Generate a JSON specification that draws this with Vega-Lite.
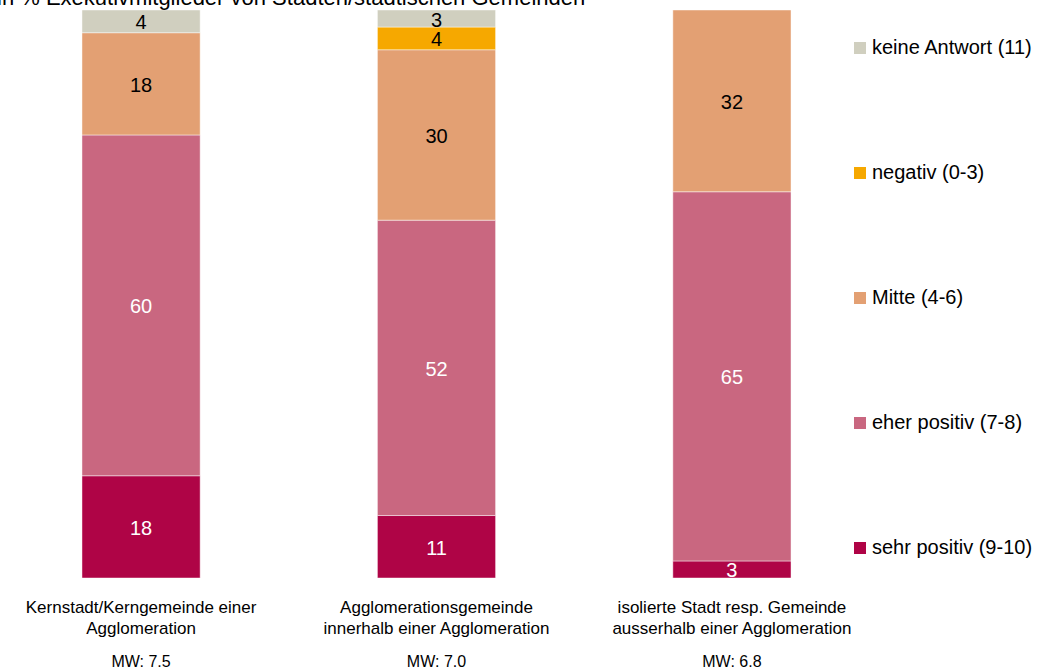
{
  "$schema": "https://vega.github.io/schema/vega-lite/v6.json",
  "autosize": "none",
  "width": 873,
  "height": 568,
  "padding": {"left": 0, "top": 10, "right": 166, "bottom": 93},
  "background": "white",
  "title": {
    "text": "in % Exekutivmitglieder von Städten/städtischen Gemeinden",
    "anchor": "start",
    "frame": "group",
    "font": "Liberation Sans, Arial",
    "fontSize": 22,
    "fontWeight": "normal",
    "color": "black",
    "baseline": "alphabetic",
    "offset": -17,
    "dx": -3
  },
  "data": {
    "values": [
      {"gemeinde": "Kernstadt/Kerngemeinde einer|Agglomeration|MW: 7.5", "kategorie": "sehr positiv (9-10)", "rang": 1, "anteil": 18},
      {"gemeinde": "Kernstadt/Kerngemeinde einer|Agglomeration|MW: 7.5", "kategorie": "eher positiv (7-8)", "rang": 2, "anteil": 60},
      {"gemeinde": "Kernstadt/Kerngemeinde einer|Agglomeration|MW: 7.5", "kategorie": "Mitte (4-6)", "rang": 3, "anteil": 18},
      {"gemeinde": "Kernstadt/Kerngemeinde einer|Agglomeration|MW: 7.5", "kategorie": "keine Antwort (11)", "rang": 5, "anteil": 4},
      {"gemeinde": "Agglomerationsgemeinde|innerhalb einer Agglomeration|MW: 7.0", "kategorie": "sehr positiv (9-10)", "rang": 1, "anteil": 11},
      {"gemeinde": "Agglomerationsgemeinde|innerhalb einer Agglomeration|MW: 7.0", "kategorie": "eher positiv (7-8)", "rang": 2, "anteil": 52},
      {"gemeinde": "Agglomerationsgemeinde|innerhalb einer Agglomeration|MW: 7.0", "kategorie": "Mitte (4-6)", "rang": 3, "anteil": 30},
      {"gemeinde": "Agglomerationsgemeinde|innerhalb einer Agglomeration|MW: 7.0", "kategorie": "negativ (0-3)", "rang": 4, "anteil": 4},
      {"gemeinde": "Agglomerationsgemeinde|innerhalb einer Agglomeration|MW: 7.0", "kategorie": "keine Antwort (11)", "rang": 5, "anteil": 3},
      {"gemeinde": "isolierte Stadt resp. Gemeinde|ausserhalb einer Agglomeration|MW: 6.8", "kategorie": "sehr positiv (9-10)", "rang": 1, "anteil": 3},
      {"gemeinde": "isolierte Stadt resp. Gemeinde|ausserhalb einer Agglomeration|MW: 6.8", "kategorie": "eher positiv (7-8)", "rang": 2, "anteil": 65},
      {"gemeinde": "isolierte Stadt resp. Gemeinde|ausserhalb einer Agglomeration|MW: 6.8", "kategorie": "Mitte (4-6)", "rang": 3, "anteil": 32}
    ]
  },
  "transform": [
    {"stack": "anteil", "groupby": ["gemeinde"], "sort": [{"field": "rang", "order": "ascending"}], "as": ["unten", "oben"]},
    {"calculate": "(datum.unten + datum.oben) / 2", "as": "mitte"}
  ],
  "encoding": {
    "x": {
      "field": "gemeinde",
      "type": "nominal",
      "sort": null,
      "title": null,
      "scale": {"paddingInner": 0.6, "paddingOuter": 0.2775}
    }
  },
  "layer": [
    {
      "mark": {"type": "bar", "stroke": "#ffffff", "strokeWidth": 1, "strokeOpacity": 0.45},
      "encoding": {
        "x": {
          "field": "gemeinde",
          "type": "nominal",
          "sort": null,
          "title": null,
          "axis": {
            "orient": "bottom",
            "domain": false,
            "ticks": false,
            "labelAngle": 0,
            "labelPadding": 21,
            "labelFont": "Liberation Sans, Arial",
            "labelFontSize": 17,
            "labelLineHeight": 21,
            "labelColor": "black",
            "labelLimit": 0,
            "labelExpr": "[split(datum.value, '|')[0], split(datum.value, '|')[1]]"
          }
        },
        "y": {"field": "unten", "type": "quantitative", "scale": {"domain": [0, 100], "nice": false}, "axis": null},
        "y2": {"field": "oben"},
        "color": {
          "field": "kategorie",
          "type": "nominal",
          "scale": {
            "domain": ["keine Antwort (11)", "negativ (0-3)", "Mitte (4-6)", "eher positiv (7-8)", "sehr positiv (9-10)"],
            "range": ["#D0CFBF", "#F6A800", "#E3A073", "#C96780", "#AF0446"]
          },
          "legend": {
            "title": null,
            "orient": "none",
            "legendX": 850,
            "legendY": 28,
            "symbolType": "square",
            "symbolSize": 144,
            "symbolStrokeWidth": 0,
            "symbolOpacity": 1,
            "labelFont": "Liberation Sans, Arial",
            "labelFontSize": 20,
            "labelColor": "black",
            "labelOffset": 2,
            "labelLimit": 0,
            "rowPadding": 105
          }
        }
      }
    },
    {
      "mark": {"type": "text", "clip": true, "baseline": "middle", "align": "center", "font": "Liberation Sans, Arial", "fontSize": 20, "dy": 2},
      "encoding": {
        "x": {
          "field": "gemeinde",
          "type": "nominal",
          "sort": null,
          "title": null,
          "axis": {
            "orient": "bottom",
            "domain": false,
            "ticks": false,
            "labelAngle": 0,
            "labelPadding": 75,
            "labelFont": "Liberation Sans, Arial",
            "labelFontSize": 16,
            "labelColor": "black",
            "labelExpr": "split(datum.value, '|')[2]"
          }
        },
        "y": {"field": "mitte", "type": "quantitative"},
        "text": {"field": "anteil", "type": "quantitative"},
        "color": {"condition": {"test": "datum.rang <= 2", "value": "#ffffff"}, "value": "#000000"}
      }
    }
  ],
  "resolve": {"axis": {"x": "independent"}},
  "config": {"view": {"stroke": null}}
}
